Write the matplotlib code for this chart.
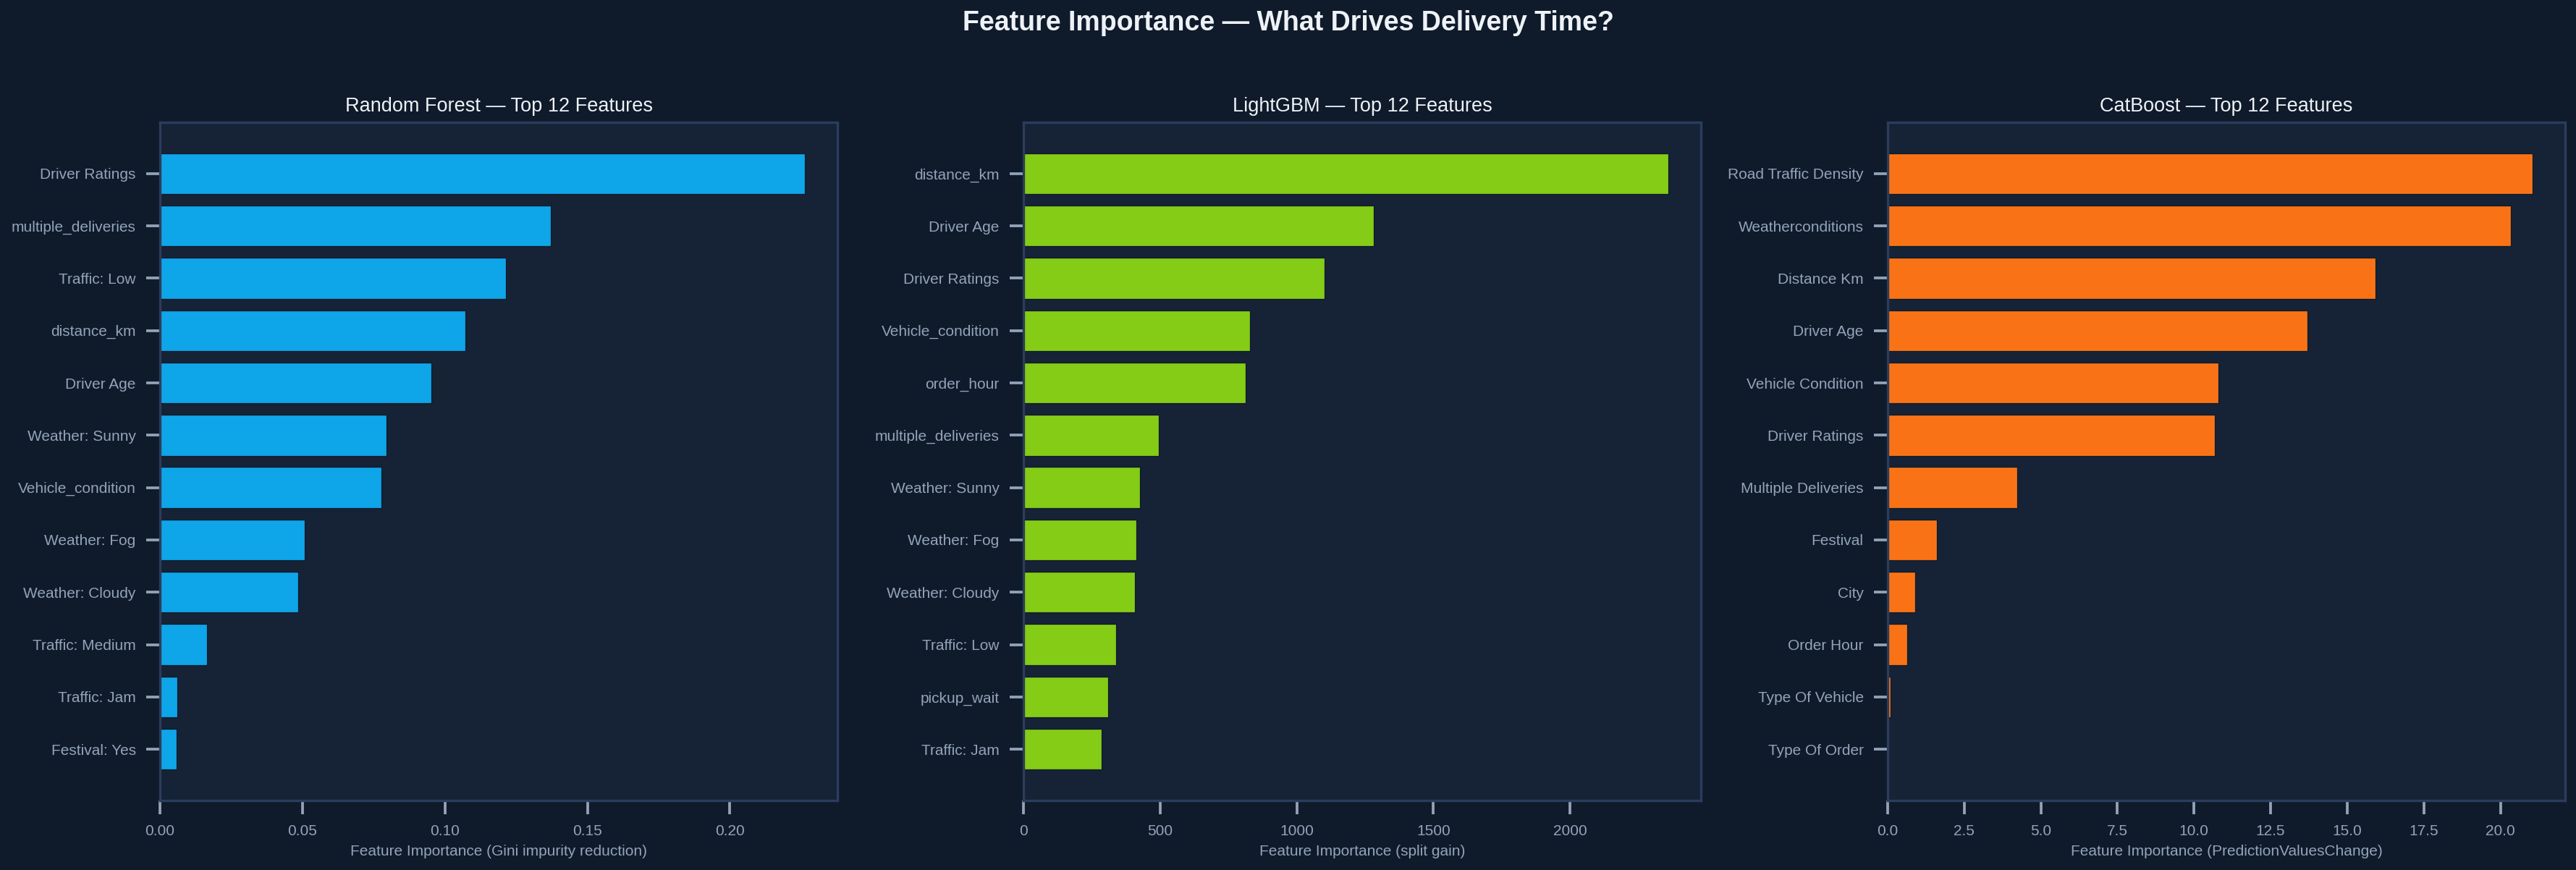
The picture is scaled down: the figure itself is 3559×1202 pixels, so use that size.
import numpy as np
import matplotlib
matplotlib.use("Agg")
import matplotlib.pyplot as plt

plt.rcParams['font.family'] = ['Liberation Sans', 'DejaVu Sans']

# ---- data (top to bottom, as in the chart) ----
rf_features = ['Driver Ratings', 'multiple_deliveries', 'Traffic: Low', 'distance_km',
               'Driver Age', 'Weather: Sunny', 'Vehicle_condition', 'Weather: Fog',
               'Weather: Cloudy', 'Traffic: Medium', 'Traffic: Jam', 'Festival: Yes']
rf_values = [0.2264, 0.1372, 0.1215, 0.1073, 0.0953, 0.0796, 0.0777, 0.0508,
             0.0484, 0.0165, 0.0061, 0.0058]

lgb_features = ['distance_km', 'Driver Age', 'Driver Ratings', 'Vehicle_condition',
                'order_hour', 'multiple_deliveries', 'Weather: Sunny', 'Weather: Fog',
                'Weather: Cloudy', 'Traffic: Low', 'pickup_wait', 'Traffic: Jam']
lgb_values = [2361, 1283, 1102, 829, 813, 496, 427, 412, 407, 338, 309, 287]

cb_features = ['Road Traffic Density', 'Weatherconditions', 'Distance Km', 'Driver Age',
               'Vehicle Condition', 'Driver Ratings', 'Multiple Deliveries', 'Festival',
               'City', 'Order Hour', 'Type Of Vehicle', 'Type Of Order']
cb_values = [21.06, 20.34, 15.93, 13.71, 10.80, 10.69, 4.24, 1.61, 0.90, 0.63, 0.09, 0.005]

titles = ['Random Forest \u2014 Top 12 Features', 'LightGBM \u2014 Top 12 Features',
          'CatBoost \u2014 Top 12 Features']
xlabels = ['Feature Importance (Gini impurity reduction)',
           'Feature Importance (split gain)',
           'Feature Importance (PredictionValuesChange)']
bar_colors = ['#0ea5e9', '#84cc16', '#f97316']

# ---- style ----
FIG_BG = '#0f1b2b'
AX_BG = '#162236'
SPINE = '#2b3d5c'
TICK = '#94a3b8'
TITLE = '#eef2f7'

W, H, DPI = 3559, 1202, 150
fig = plt.figure(figsize=(W / DPI, H / DPI), dpi=DPI, facecolor=FIG_BG)

lefts = [221, 1414, 2608]
ax_w = 936
ax_top, ax_bot = 169, 1106

panels = [(rf_features, rf_values), (lgb_features, lgb_values), (cb_features, cb_values)]

for i, (feats, vals) in enumerate(panels):
    ax = fig.add_axes([lefts[i] / W, 1 - ax_bot / H, ax_w / W, (ax_bot - ax_top) / H])
    ax.set_facecolor(AX_BG)
    y = np.arange(len(feats))
    ax.barh(y, vals, height=0.78, color=bar_colors[i], edgecolor=FIG_BG, linewidth=0.6)
    ax.set_yticks(y)
    ax.set_yticklabels(feats)
    ax.invert_yaxis()
    ax.set_title(titles[i], color=TITLE, fontsize=13, pad=7)
    ax.set_xlabel(xlabels[i], color=TICK, fontsize=10, labelpad=4)
    ax.tick_params(axis='both', colors=TICK, labelsize=10, length=9, width=1.8, pad=7)
    for s in ax.spines.values():
        s.set_color(SPINE)
        s.set_linewidth(1.6)
    ax.grid(False)

fig.suptitle('Feature Importance \u2014 What Drives Delivery Time?', color=TITLE,
             fontsize=18, fontweight='bold', y=0.988, va='top')

fig.savefig('out.png', dpi=DPI, facecolor=FIG_BG)
